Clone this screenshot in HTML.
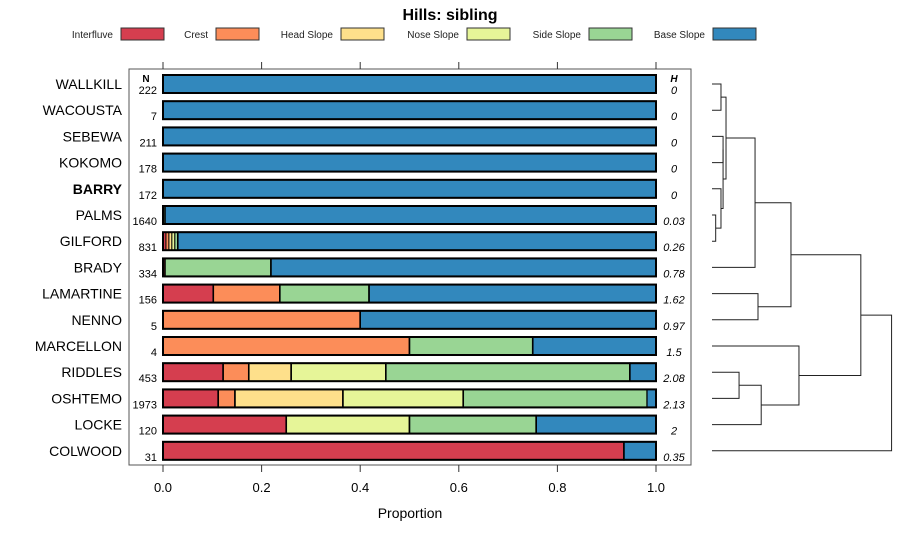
<!DOCTYPE html>
<html><head><meta charset="utf-8"><style>
body{margin:0;background:#fff;}
svg{display:block;font-family:"Liberation Sans",sans-serif;}
</style></head><body>
<svg id="chart" width="900" height="540" viewBox="0 0 900 540" xmlns="http://www.w3.org/2000/svg">
<text x="450" y="20" text-anchor="middle" font-size="16" font-weight="bold">Hills: sibling</text>
<g id="legend"></g>
<rect x="129" y="69" width="562" height="396" fill="none" stroke="#555" stroke-width="1"/>
<g id="bars"></g>
<g id="axes"></g>
<g id="dendro"></g>
<text x="410" y="518" text-anchor="middle" font-size="14">Proportion</text>
</svg>
<script>
const classes = ["Interfluve","Crest","Head Slope","Nose Slope","Side Slope","Base Slope"];
const colors = ["#D53E4F","#FC8D59","#FEE08B","#E6F598","#99D594","#3288BD"];
const series = ["WALLKILL","WACOUSTA","SEBEWA","KOKOMO","BARRY","PALMS","GILFORD","BRADY","LAMARTINE","NENNO","MARCELLON","RIDDLES","OSHTEMO","LOCKE","COLWOOD"];
const nValues = [222,7,211,178,172,1640,831,334,156,5,4,453,1973,120,31];
const hValues = ["0","0","0","0","0","0.03","0.26","0.78","1.62","0.97","1.5","2.08","2.13","2","0.35"];
const interfluve = [0,0,0,0,0,0,0.006,0.004,0.102,0,0,0.122,0.112,0.25,0.935];
const crest      = [0,0,0,0,0,0,0.006,0,0.135,0.4,0.5,0.052,0.034,0,0];
const headSlope  = [0,0,0,0,0,0,0.006,0,0,0,0,0.086,0.219,0,0];
const noseSlope  = [0,0,0,0,0,0,0.006,0,0,0,0,0.192,0.244,0.25,0];
const sideSlope  = [0,0,0,0,0,0.004,0.006,0.215,0.181,0,0.25,0.495,0.373,0.257,0];
const baseSlope  = [1,1,1,1,1,0.996,0.970,0.781,0.582,0.6,0.25,0.053,0.018,0.243,0.065];
const xTicks = [0,0.2,0.4,0.6,0.8,1.0];
const xTickLabels = ["0.0","0.2","0.4","0.6","0.8","1.0"];
// dendrogram merges: [leftNode, rightNode, height] ; leaves 0..14, merged nodes 15..
const merges = [[0,1,0.073],[2,3,0.09],[5,6,0.03],[4,17,0.073],[16,18,0.09],[15,19,0.114],[20,7,0.35],[8,9,0.374],[21,22,0.642],[11,12,0.22],[24,13,0.40],[10,25,0.707],[23,26,1.21],[27,14,1.46]];

const NS="http://www.w3.org/2000/svg";
function mk(tag,attrs,parent,txt){const e=document.createElementNS(NS,tag);for(const k in attrs)e.setAttribute(k,attrs[k]);if(txt!==undefined)e.textContent=txt;parent.appendChild(e);return e;}
const xScale=v=>163+v*493;
const yScale=i=>84+i*26.2;
const bars=document.getElementById('bars'), axes=document.getElementById('axes'), legend=document.getElementById('legend'), dendro=document.getElementById('dendro');

// legend
const legX=[121,216,341,467,589,713];
classes.forEach((c,i)=>{
  const r=mk('rect',{x:legX[i],y:28,width:43,height:12,fill:colors[i],stroke:'#333','stroke-width':1},legend);
  
  
  const t=mk('text',{x:legX[i]-8,y:38,'text-anchor':'end','font-size':10,fill:'#222'},legend,c);
  
  
});

// axes ticks
xTicks.forEach((v,i)=>{
  const x=xScale(v);
  const a=mk('line',{x1:x,x2:x,y1:62,y2:69,stroke:'#333'},axes);
  
  
  const b=mk('line',{x1:x,x2:x,y1:465,y2:472,stroke:'#333'},axes);
  
  
  const t=mk('text',{x:x,y:492,'text-anchor':'middle','font-size':13},axes,xTickLabels[i]);
  
  
});
const nh=mk('text',{x:146,y:82,'text-anchor':'middle','font-size':10,'font-weight':'bold'},axes,'N');


const hh=mk('text',{x:674,y:82,'text-anchor':'middle','font-size':10,'font-weight':'bold','font-style':'italic'},axes,'H');



const vals=[interfluve,crest,headSlope,noseSlope,sideSlope,baseSlope];
series.forEach((s,i)=>{
  const y=yScale(i);
  const lab=mk('text',{x:122,y:y+5,'text-anchor':'end','font-size':14,'font-weight':s==='BARRY'?'bold':'normal'},bars,s);
  
  
  const n=mk('text',{x:157,y:y+10,'text-anchor':'end','font-size':11},bars,String(nValues[i]));
  
  
  const h=mk('text',{x:674,y:y+10,'text-anchor':'middle','font-size':11,'font-style':'italic'},bars,hValues[i]);
  
  
  let cum=0;
  vals.forEach((arr,k)=>{
    const v=arr[i]; if(v<=0)return;
    const r=mk('rect',{x:xScale(cum),y:y-9,width:Math.max(0.5,xScale(cum+v)-xScale(cum)),height:18,fill:colors[k],stroke:'#000','stroke-width':v<0.02?1:1.6},bars);
    
    
    cum+=v;
  });
  const o=mk('rect',{x:xScale(0),y:y-9,width:493,height:18,fill:'none',stroke:'#000','stroke-width':2},bars);
  
  
});

// dendrogram
const dx=h=>712+h*123;
const nodes=series.map((s,i)=>({y:yScale(i),h:0}));
merges.forEach(m=>{
  const a=nodes[m[0]],b=nodes[m[1]],x=dx(m[2]);
  const p=mk('path',{d:`M${dx(a.h)},${a.y}H${x}V${b.y}H${dx(b.h)}`,fill:'none',stroke:'#222','stroke-width':1},dendro);
  
  
  nodes.push({y:(a.y+b.y)/2,h:m[2]});
});
</script>
</body></html>
